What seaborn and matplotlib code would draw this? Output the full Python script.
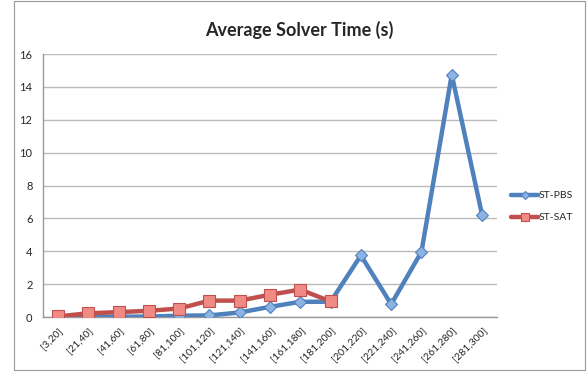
import numpy as np
import pandas as pd
import matplotlib
matplotlib.use("Agg")
import matplotlib.pyplot as plt
from matplotlib.patches import Rectangle
import seaborn as sns

categories = ["[3,20]", "[21,40]", "[41,60]", "[61,80]", "[81,100]", "[101,120]",
              "[121,140]", "[141,160]", "[161,180]", "[181,200]", "[201,220]",
              "[221,240]", "[241,260]", "[261,280]", "[281,300]"]
pbs_time = [0.0, 0.02, 0.02, 0.03, 0.08, 0.1, 0.28, 0.62, 0.93, 0.93,
            3.75, 0.78, 3.97, 14.75, 6.22]
sat_time = [0.04, 0.23, 0.3, 0.38, 0.52, 1.0, 1.0, 1.36, 1.67, 0.95]

sns.set_style("white")
plt.rcParams['font.family'] = ['Lato', 'DejaVu Sans']

pbs = pd.DataFrame({"bin": categories, "time": pbs_time})
sat = pd.DataFrame({"bin": categories[:len(sat_time)], "time": sat_time})

fig = plt.figure(figsize=(5.87, 3.73), dpi=100)
ax = fig.add_axes([0.073, 0.150, 0.774, 0.705])

blue, red = "#4F81BD", "#C0504D"
sns.lineplot(data=pbs, x="bin", y="time", ax=ax, color=blue, lw=3.2,
             marker="D", markersize=6, markerfacecolor="#8DB3E2",
             markeredgecolor=blue, markeredgewidth=0.8, label="ST-PBS", zorder=3)
sns.lineplot(data=sat, x="bin", y="time", ax=ax, color=red, lw=3.2,
             marker="s", markersize=8, markerfacecolor="#F08A85",
             markeredgecolor=red, markeredgewidth=0.8, label="ST-SAT", zorder=4)

ax.set_xlim(-0.5, len(categories) - 0.5)
ax.set_ylim(0, 16)
ax.set_yticks(range(0, 17, 2))
ax.set_xticks(range(len(categories)))
ax.set_xticklabels(categories, rotation=45, ha="right", rotation_mode="anchor", fontsize=7.5)
ax.set_xticks(np.arange(-0.5, len(categories), 1), minor=True)
ax.tick_params(axis="x", which="major", length=0, pad=6)
ax.tick_params(axis="x", which="minor", length=4, color="#999999", width=0.8, direction="out")
ax.tick_params(axis="y", length=4, color="#999999", width=0.8, direction="out", labelsize=8)
ax.yaxis.grid(True, color="#BBBBBB", lw=1)
ax.set_axisbelow(True)
ax.set_xlabel("")
ax.set_ylabel("")
for s in ["top", "right"]:
    ax.spines[s].set_visible(False)
for s in ["left", "bottom"]:
    ax.spines[s].set_color("#999999")
    ax.spines[s].set_linewidth(1)

leg = ax.legend(loc="center left", bbox_to_anchor=(1.01, 0.42), frameon=False,
                fontsize=7.5, handlelength=2.6, handletextpad=0, labelspacing=1.2,
                markerscale=0.7)
fig.text(0.51, 0.92, "Average Solver Time (s)", ha="center", va="center",
         fontsize=13, fontweight="bold")

fig.patches.append(Rectangle((0.024, 0.008), 0.972, 0.99, transform=fig.transFigure,
                             fill=False, edgecolor="#999999", lw=0.8))

fig.savefig("out.png", dpi=100)
